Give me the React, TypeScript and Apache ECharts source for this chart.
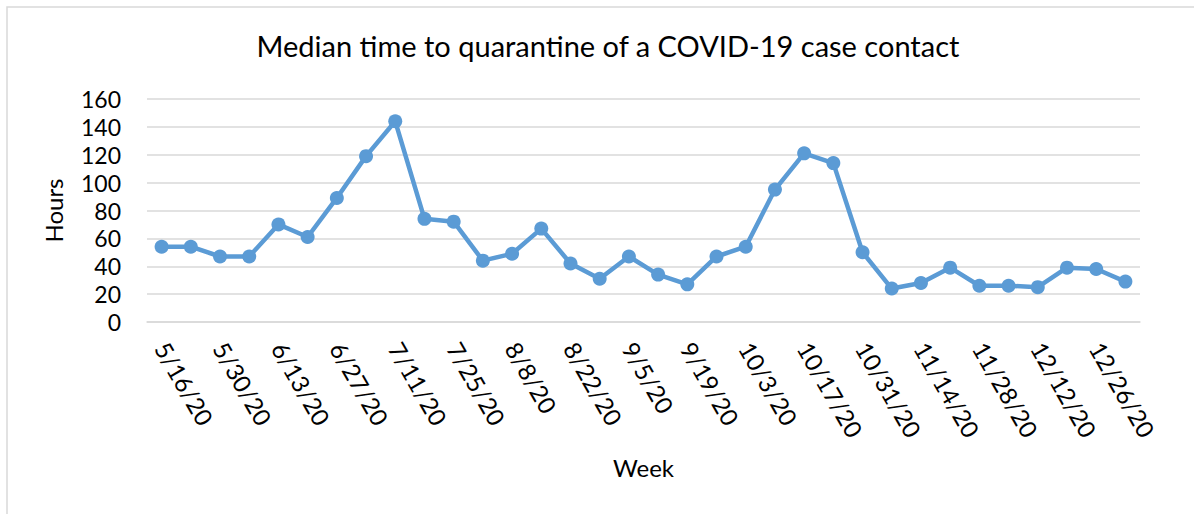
import React, { useEffect, useRef } from "react";
import * as echarts from "echarts";

const weeks = [
  "5/16/20", "5/23/20", "5/30/20", "6/6/20", "6/13/20", "6/20/20", "6/27/20", "7/4/20",
  "7/11/20", "7/18/20", "7/25/20", "8/1/20", "8/8/20", "8/15/20", "8/22/20", "8/29/20",
  "9/5/20", "9/12/20", "9/19/20", "9/26/20", "10/3/20", "10/10/20", "10/17/20", "10/24/20",
  "10/31/20", "11/7/20", "11/14/20", "11/21/20", "11/28/20", "12/5/20", "12/12/20", "12/19/20",
  "12/26/20", "1/2/21",
];

const medianHours = [
  54, 54, 47, 47, 70, 61, 89, 119,
  144, 74, 72, 44, 49, 67, 42, 31,
  47, 34, 27, 47, 54, 95, 121, 114,
  50, 24, 28, 39, 26, 26, 25, 39,
  38, 29,
];

const FONT = "Lato, 'Open Sans', sans-serif";

export default function App() {
  const ref = useRef<HTMLDivElement>(null);
  useEffect(() => {
    if (!ref.current) return;
    const chart = echarts.init(ref.current, null, { renderer: "svg" });
    chart.setOption({
      animation: false,
      backgroundColor: "#fff",
      title: {
        text: "Median time to quarantine of a COVID-19 case contact",
        left: 603,
        top: 26,
        textAlign: "center",
        textStyle: { fontFamily: FONT, fontSize: 29, fontWeight: "normal", color: "#000" },
      },
      graphic: [
        {
          type: "rect",
          shape: { x: 7, y: 7, width: 1200, height: 520 },
          style: { fill: "none", stroke: "#D9D9D9", lineWidth: 1.5 },
          silent: true,
        },
      ],
      grid: { left: 147, right: 54, top: 99, bottom: 192, containLabel: false },
      xAxis: {
        type: "category",
        data: weeks,
        boundaryGap: true,
        name: "Week",
        nameLocation: "middle",
        nameGap: 133,
        nameTextStyle: { fontFamily: FONT, fontSize: 24, color: "#000" },
        axisLine: { show: true, lineStyle: { color: "#D9D9D9", width: 1.5 } },
        axisTick: { show: false },
        axisLabel: {
          interval: 1,
          rotate: -60,
          margin: 22,
          fontFamily: FONT,
          fontSize: 24,
          color: "#000",
        },
      },
      yAxis: {
        type: "value",
        min: 0,
        max: 160,
        interval: 20,
        name: "Hours",
        nameLocation: "middle",
        nameGap: 82,
        nameTextStyle: { fontFamily: FONT, fontSize: 24, color: "#000" },
        axisLine: { show: false },
        axisTick: { show: false },
        axisLabel: { margin: 26, fontFamily: FONT, fontSize: 23, color: "#000" },
        splitLine: { lineStyle: { color: "#D9D9D9", width: 1.5 } },
      },
      series: [
        {
          type: "line",
          data: medianHours,
          symbol: "circle",
          symbolSize: 14,
          lineStyle: { color: "#5B9BD5", width: 4.5 },
          itemStyle: { color: "#5B9BD5" },
        },
      ],
    });
    return () => chart.dispose();
  }, []);
  return (
    <div
      ref={ref}
      style={{ position: "fixed", left: 0, top: 0, width: 1194, height: 514 }}
    />
  );
}
